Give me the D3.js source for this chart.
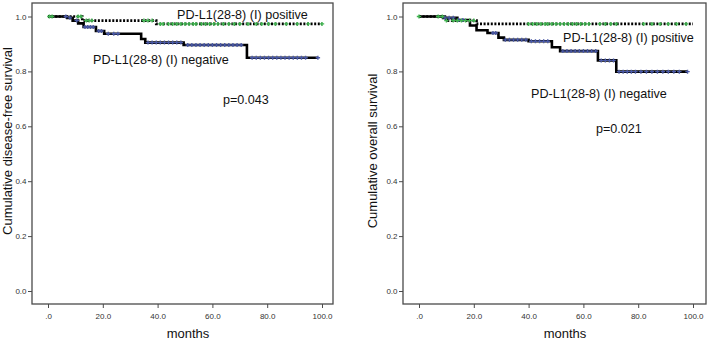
<!DOCTYPE html>
<html><head><meta charset="utf-8">
<script src="https://cdn.jsdelivr.net/npm/d3@7/dist/d3.min.js"></script>
<style>body{margin:0;background:#fff}svg{display:block;font-family:"Liberation Sans",Arial,sans-serif}</style>
</head><body>
<svg id="c" width="709" height="341"></svg>
<script>
// ---- data ----
const xTicks = [0, 20, 40, 60, 80, 100];
const xTickLabels = [".0", "20.0", "40.0", "60.0", "80.0", "100.0"];
const yTicks = [0, 0.2, 0.4, 0.6, 0.8, 1.0];
const yTickLabels = ["0.0", "0.2", "0.4", "0.6", "0.8", "1.0"];
const xTitle = "months";

// Panel A: disease-free survival
const dfsTitle = "Cumulative disease-free survival";
const dfsPValue = "p=0.043";
const dfsPosTimes = [0, 12.5, 39.5, 100];
const dfsPosSurv  = [1.0, 0.985, 0.973, 0.973];
const dfsPosCensor = [0.5, 1.5, 11, 12, 14, 15, 16, 35, 36.5, 38, 41, 42, 44, 45.5, 47, 48.5, 50, 51.5, 53, 54, 56, 57.5, 59, 60.5, 62, 64, 66, 68, 70, 73, 76, 78, 80.5, 83, 87, 91, 95, 100];
const dfsNegTimes = [0, 7, 9, 11, 13, 17.5, 20.5, 34, 35.5, 49.5, 72.6, 98.5];
const dfsNegSurv  = [1.0, 0.995, 0.985, 0.975, 0.962, 0.947, 0.937, 0.918, 0.905, 0.896, 0.85, 0.85];
const dfsNegCensor = [6.5, 8, 10.5, 13.5, 14.5, 15.5, 16.5, 18.5, 19.5, 22, 24, 25.5, 36.5, 38, 39.5, 41, 42.5, 44, 45.5, 47, 48.5, 51, 52.5, 54, 55.5, 57, 58.5, 60, 61.5, 63, 64.5, 66, 67.5, 69, 70.5, 74.5, 76, 77.5, 79, 80.5, 82, 83.5, 85, 86.5, 88, 89.5, 91, 92.5, 94, 98.5];

// Panel B: overall survival
const osTitle = "Cumulative overall survival";
const osPValue = "p=0.021";
const osPosTimes = [0, 10, 21, 100];
const osPosSurv  = [1.0, 0.985, 0.973, 0.973];
const osPosCensor = [0, 7, 8.5, 10, 12.5, 14, 15.5, 17, 18.5, 20, 40, 41.5, 43, 44.5, 46, 47, 48.5, 50, 51.5, 53, 54.5, 56, 57.5, 59, 60.5, 62, 66, 68, 70, 72, 82, 85, 88, 91, 94, 97.5];
const osNegTimes = [0, 8.8, 14, 18.6, 21, 25, 29, 31, 40, 48.5, 51.5, 65.3, 72, 98];
const osNegSurv  = [1.0, 0.995, 0.987, 0.967, 0.95, 0.94, 0.923, 0.915, 0.91, 0.888, 0.874, 0.84, 0.799, 0.799];
const osNegCensor = [9.5, 11, 12.5, 14.5, 16, 27, 28, 31.5, 33, 34.5, 36, 37.5, 39, 41, 42.5, 44, 45.5, 47, 52.5, 54, 55.5, 57, 58.5, 60, 61.5, 63, 64.5, 66.5, 68, 69.5, 71, 73, 74.5, 76, 77.5, 79, 81, 83, 85, 87, 89, 91, 93, 95, 98];

const posLabel = "PD-L1(28-8) (I) positive";
const negLabel = "PD-L1(28-8) (I) negative";

// ---- drawing ----
const svg = d3.select("#c");
const FRAME = "#4a4a4a", TXT = "#333";
const POS_MARK = "#3fb34f", NEG_MARK = "#4b5aa6";

function stepValue(times, surv, t) {
  let v = surv[0];
  for (let i = 0; i < times.length; i++) if (times[i] <= t) v = surv[i];
  return v;
}

function panel(cfg) {
  const g = svg.append("g");
  const x = d3.scaleLinear().domain([0, 100]).range([cfg.x0, cfg.x1]);
  const y = d3.scaleLinear().domain([0, 1]).range([291, 16.5]);

  // frame
  g.append("rect").attr("x", cfg.fL).attr("y", 3).attr("width", cfg.fR - cfg.fL).attr("height", 301)
    .attr("fill", "#fff").attr("stroke", FRAME).attr("stroke-width", 1.3);

  // y axis ticks
  const ya = g.append("g").attr("transform", `translate(${cfg.fL},0)`)
    .call(d3.axisLeft(y).tickValues(yTicks).tickFormat((d, i) => yTickLabels[i]).tickSize(4).tickPadding(1.5));
  ya.select(".domain").remove();
  ya.selectAll("line").attr("stroke", FRAME);
  ya.selectAll("text").attr("font-size", 8).attr("fill", TXT).attr("font-family", "Liberation Sans, Arial, sans-serif");

  // x axis ticks
  const xa = g.append("g").attr("transform", `translate(0,304)`)
    .call(d3.axisBottom(x).tickValues(xTicks).tickFormat((d, i) => xTickLabels[i]).tickSize(4).tickPadding(5));
  xa.select(".domain").remove();
  xa.selectAll("line").attr("stroke", FRAME);
  xa.selectAll("text").attr("font-size", 8).attr("fill", TXT).attr("font-family", "Liberation Sans, Arial, sans-serif");

  const line = d3.line().x(d => x(d[0])).y(d => y(d[1])).curve(d3.curveStepAfter);

  // negative curve (solid)
  const negPts = cfg.negT.map((t, i) => [t, cfg.negS[i]]);
  g.append("path").attr("d", line(negPts)).attr("fill", "none").attr("stroke", "#000").attr("stroke-width", 2.6);
  // positive curve (dotted)
  const posPts = cfg.posT.map((t, i) => [t, cfg.posS[i]]);
  g.append("path").attr("d", line(posPts)).attr("fill", "none").attr("stroke", "#000").attr("stroke-width", 2.6)
    .attr("stroke-dasharray", "2,1.6");

  // censor marks
  const mark = (times, T, S, color) => {
    g.append("g").selectAll("path").data(times).join("path")
      .attr("d", t => { const cx = x(t), cy = y(stepValue(T, S, t)); return `M${cx - 2.2},${cy}H${cx + 2.2}M${cx},${cy - 2}V${cy + 2}`; })
      .attr("stroke", color).attr("stroke-width", 1.4).attr("fill", "none");
  };
  mark(cfg.negC, cfg.negT, cfg.negS, NEG_MARK);
  mark(cfg.posC, cfg.posT, cfg.posS, POS_MARK);

  // labels
  const lab = (txt, px, py, fs) => g.append("text").attr("x", px).attr("y", py).attr("font-size", fs).attr("fill", "#111").text(txt);
  lab(posLabel, cfg.posLab[0], cfg.posLab[1], 12.6);
  lab(negLabel, cfg.negLab[0], cfg.negLab[1], 12.6);
  lab(cfg.p, cfg.pLab[0], cfg.pLab[1], 12.6);

  // axis titles
  g.append("text").attr("x", cfg.monthsX).attr("y", 338).attr("text-anchor", "middle").attr("font-size", 13).attr("fill", "#111").text(xTitle);
  g.append("text").attr("transform", `translate(${cfg.yTitleX},${cfg.yTitleY}) rotate(-90)`).attr("text-anchor", "middle")
    .attr("font-size", 13).attr("fill", "#111").text(cfg.title);
}

panel({x0: 48, x1: 322, fL: 32, fR: 333, negT: dfsNegTimes, negS: dfsNegSurv, negC: dfsNegCensor,
  posT: dfsPosTimes, posS: dfsPosSurv, posC: dfsPosCensor, posLab: [177, 19], negLab: [93, 64], p: dfsPValue, pLab: [223, 104],
  monthsX: 188, yTitleX: 12, yTitleY: 141, title: dfsTitle});
panel({x0: 419, x1: 693, fL: 403, fR: 706, negT: osNegTimes, negS: osNegSurv, negC: osNegCensor,
  posT: osPosTimes, posS: osPosSurv, posC: osPosCensor, posLab: [563, 42], negLab: [531, 98], p: osPValue, pLab: [596, 133],
  monthsX: 565, yTitleX: 377, yTitleY: 151, title: osTitle});
</script>
</body></html>
